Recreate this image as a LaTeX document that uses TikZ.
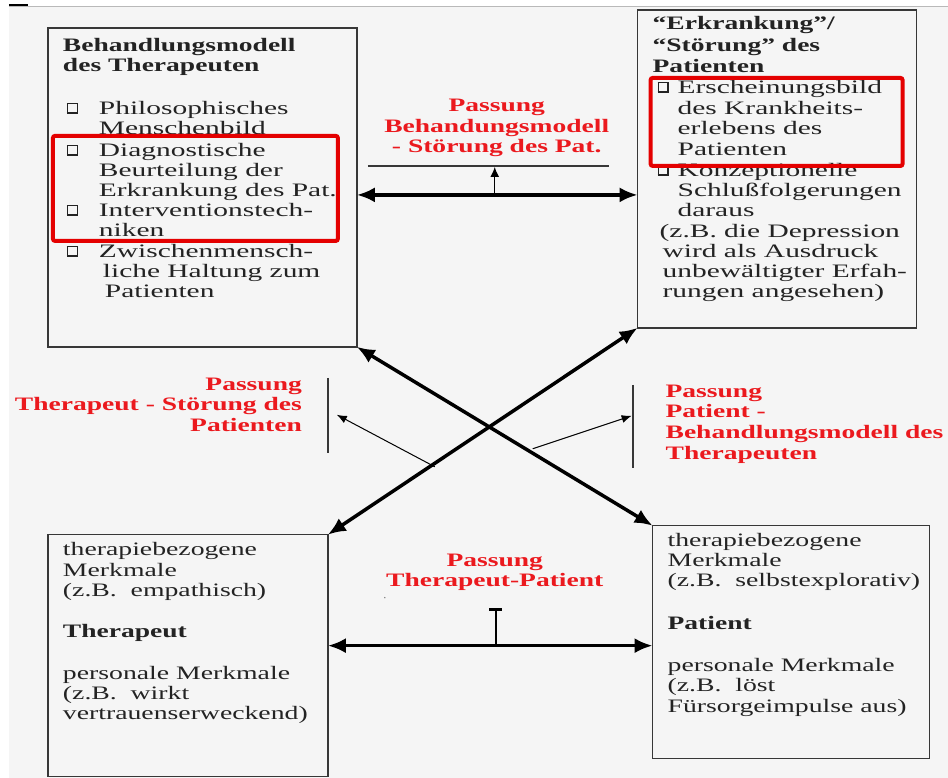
\documentclass[tikz,border=0pt]{standalone}
\usepackage{fontspec}
\setmainfont{Liberation Serif}
\newfontfamily\topf[FakeStretch=1.55]{Liberation Serif}
\newfontfamily\botf[FakeStretch=1.46]{Liberation Serif}
\newfontfamily\boldf[FakeStretch=1.45]{Liberation Serif}
\usetikzlibrary{arrows.meta}
\definecolor{pagebg}{RGB}{245,245,245}
\definecolor{boxline}{RGB}{55,55,55}
\definecolor{txt}{RGB}{35,35,35}
\definecolor{lblred}{RGB}{235,25,30}
\definecolor{hlred}{RGB}{228,0,0}
\newcommand{\mybullet}{\raisebox{2.5pt}{\fboxsep=0pt\fboxrule=1.2pt\fbox{\rule{0pt}{8.5pt}\hspace{8.5pt}}}}
\begin{document}
\begin{tikzpicture}[x=1pt,y=-1pt,
  tline/.style={anchor=base west,inner sep=0,outer sep=0,text=txt,font=\topf\fontsize{19}{20}\selectfont},
  bline/.style={anchor=base west,inner sep=0,outer sep=0,text=txt,font=\botf\fontsize{19}{20}\selectfont},
  ttl/.style={anchor=base west,inner sep=0,outer sep=0,text=txt,font=\boldf\bfseries\fontsize{19}{20}\selectfont},
  lbl/.style={inner sep=0,outer sep=0,text=lblred,font=\boldf\bfseries\fontsize{19}{20}\selectfont},
  box/.style={draw=boxline,line width=1.5pt,inner sep=0,outer sep=0,anchor=north west},
  hlbox/.style={draw=hlred,line width=4pt,rounded corners=2pt},
  big/.style={line width=3.5pt,{Latex[length=18pt,width=15pt]}-{Latex[length=18pt,width=15pt]}},
  thinarr/.style={line width=1pt,-{Latex[length=10pt,width=8pt]}},
  vline/.style={draw=boxline,line width=1.8pt}]
% background
\fill[white] (0,0) rectangle (948,778);
\fill[pagebg] (9,7) rectangle (948,778);
\draw[gray!55,line width=1pt] (9,7) -- (948,7);
\draw[black,line width=2pt] (9,5.5) -- (28,5.5);
\useasboundingbox (0,0) rectangle (948,778);

% boxes
\node[box,minimum width=309pt,minimum height=319pt] (tl) at (48,28) {};
\node[box,minimum width=279pt,minimum height=318pt] (tr) at (638,10) {};
\node[box,minimum width=280pt,minimum height=242pt] (bl) at (48,535) {};
\node[box,minimum width=277pt,minimum height=233pt] (br) at (653,526) {};

% helper coordinates
\coordinate (ta) at (0,195);
\coordinate (ba) at (0,646);
\coordinate (tm) at (495,195);
\coordinate (tt) at (495,167);
\coordinate (ul1) at (368,166);
\coordinate (ul2) at (609,166);
\coordinate (bm) at (496,646);
\coordinate (bt) at (496,608);
\coordinate (lv1) at (328,378);
\coordinate (lv2) at (328,453);
\coordinate (rv1) at (633,385);
\coordinate (rv2) at (633,468);
\coordinate (la1) at (435,467);
\coordinate (la2) at (337,415);
\coordinate (ra1) at (533,449);
\coordinate (ra2) at (632,416);

% connectors
\draw[big] (tl.east |- ta) -- (tr.west |- ta);
\draw[boxline,line width=1.2pt] (ul1) -- (ul2);
\draw[line width=1.5pt,-{Latex[length=10pt,width=9pt]}] (tm) -- (tt);
\draw[big] (bl.east |- ba) -- (br.west |- ba);
\draw[line width=1.6pt,-{Bar[width=13pt,line width=3pt]}] (bm) -- (bt);
\fill[gray] (385,598) circle (0.8);
\draw[big] (tl.south east) -- (br.north west);
\draw[big] (tr.south west) -- (bl.north east);
\draw[vline] (lv1) -- (lv2);
\draw[vline] (rv1) -- (rv2);
\draw[thinarr] (la1) -- (la2);
\draw[thinarr] (ra1) -- (ra2);

% TL box text
\node[ttl] (tl1) at (63,52) {Behandlungsmodell};
\node[ttl] (tl2) at (63,72) {des Therapeuten};
\node[tline] (tl3) at (67,115) {\makebox[32pt][l]{\mybullet}Philosophisches};
\node[tline] (tl4) at (99,135) {Menschenbild};
\node[tline] (tl5) at (67,157) {\makebox[32pt][l]{\mybullet}Diagnostische};
\node[tline] (tl6) at (99,177) {Beurteilung der};
\node[tline] (tl7) at (99,197) {Erkrankung des Pat.};
\node[tline] (tl8) at (67,217) {\makebox[32pt][l]{\mybullet}Interventionstech-};
\node[tline] (tl9) at (99,237) {niken};
\node[tline] (tl10) at (67,258) {\makebox[32pt][l]{\mybullet}Zwischenmensch-};
\node[tline] (tl11) at (103,278) {liche Haltung zum};
\node[tline] (tl12) at (105,298) {Patienten};

% TR box text
\node[ttl] (tr1) at (653,30) {“Erkrankung”/};
\node[ttl] (tr2) at (653,52) {“Störung” des};
\node[ttl] (tr3) at (653,73) {Patienten};
\node[tline] (tr4) at (658,94) {\makebox[20pt][l]{\mybullet}Erscheinungsbild};
\node[tline] (tr5) at (678,115) {des Krankheits-};
\node[tline] (tr6) at (678,135) {erlebens des};
\node[tline] (tr7) at (678,156) {Patienten};
\node[tline] (tr8) at (658,177) {\makebox[20pt][l]{\mybullet}Konzeptionelle};
\node[tline] (tr9) at (678,197) {Schlußfolgerungen};
\node[tline] (tr10) at (678,217) {daraus};
\node[tline] (tr11) at (660,238) {(z.B.\ die Depression};
\node[tline] (tr12) at (663,258) {wird als Ausdruck};
\node[tline] (tr13) at (663,278) {unbewältigter Erfah-};
\node[tline] (tr14) at (663,298) {rungen angesehen)};

% BL box text
\node[bline] (bl1) at (63,556) {therapiebezogene};
\node[bline] (bl2) at (63,577) {Merkmale};
\node[bline] (bl3) at (63,597) {(z.B.\ \ empathisch)};
\node[ttl] (bl4) at (63,638) {Therapeut};
\node[bline] (bl5) at (63,680) {personale Merkmale};
\node[bline] (bl6) at (63,700) {(z.B.\ \ wirkt};
\node[bline] (bl7) at (63,720) {vertrauenserweckend)};

% BR box text
\node[bline] (br1) at (668,547) {therapiebezogene};
\node[bline] (br2) at (668,567) {Merkmale};
\node[bline] (br3) at (668,587) {(z.B.\ \ selbstexplorativ)};
\node[ttl] (br4) at (668,630) {Patient};
\node[bline] (br5) at (668,672) {personale Merkmale};
\node[bline] (br6) at (668,692) {(z.B.\ \ löst};
\node[bline] (br7) at (668,713) {Fürsorgeimpulse aus)};

% red labels
\node[lbl,anchor=base] (pt1) at (497,112) {Passung};
\node[lbl,anchor=base] (pt2) at (497,133) {Behandungsmodell};
\node[lbl,anchor=base] (pt3) at (497,153) {- Störung des Pat.};
\node[lbl,anchor=base] (pb1) at (495,567) {Passung};
\node[lbl,anchor=base] (pb2) at (495,587) {Therapeut-Patient};
\node[lbl,anchor=base east] (pl1) at (302,391) {Passung};
\node[lbl,anchor=base east] (pl2) at (302,411) {Therapeut - Störung des};
\node[lbl,anchor=base east] (pl3) at (302,432) {Patienten};
\node[lbl,anchor=base west] (pr1) at (666,398) {Passung};
\node[lbl,anchor=base west] (pr2) at (666,418) {Patient -};
\node[lbl,anchor=base west] (pr3) at (666,439) {Behandlungsmodell des};
\node[lbl,anchor=base west] (pr4) at (666,460) {Therapeuten};

% red highlight frames
\draw[hlbox] (53,136) rectangle (338,241);
\draw[hlbox] (651,78) rectangle (903,166);
\end{tikzpicture}
\end{document}
